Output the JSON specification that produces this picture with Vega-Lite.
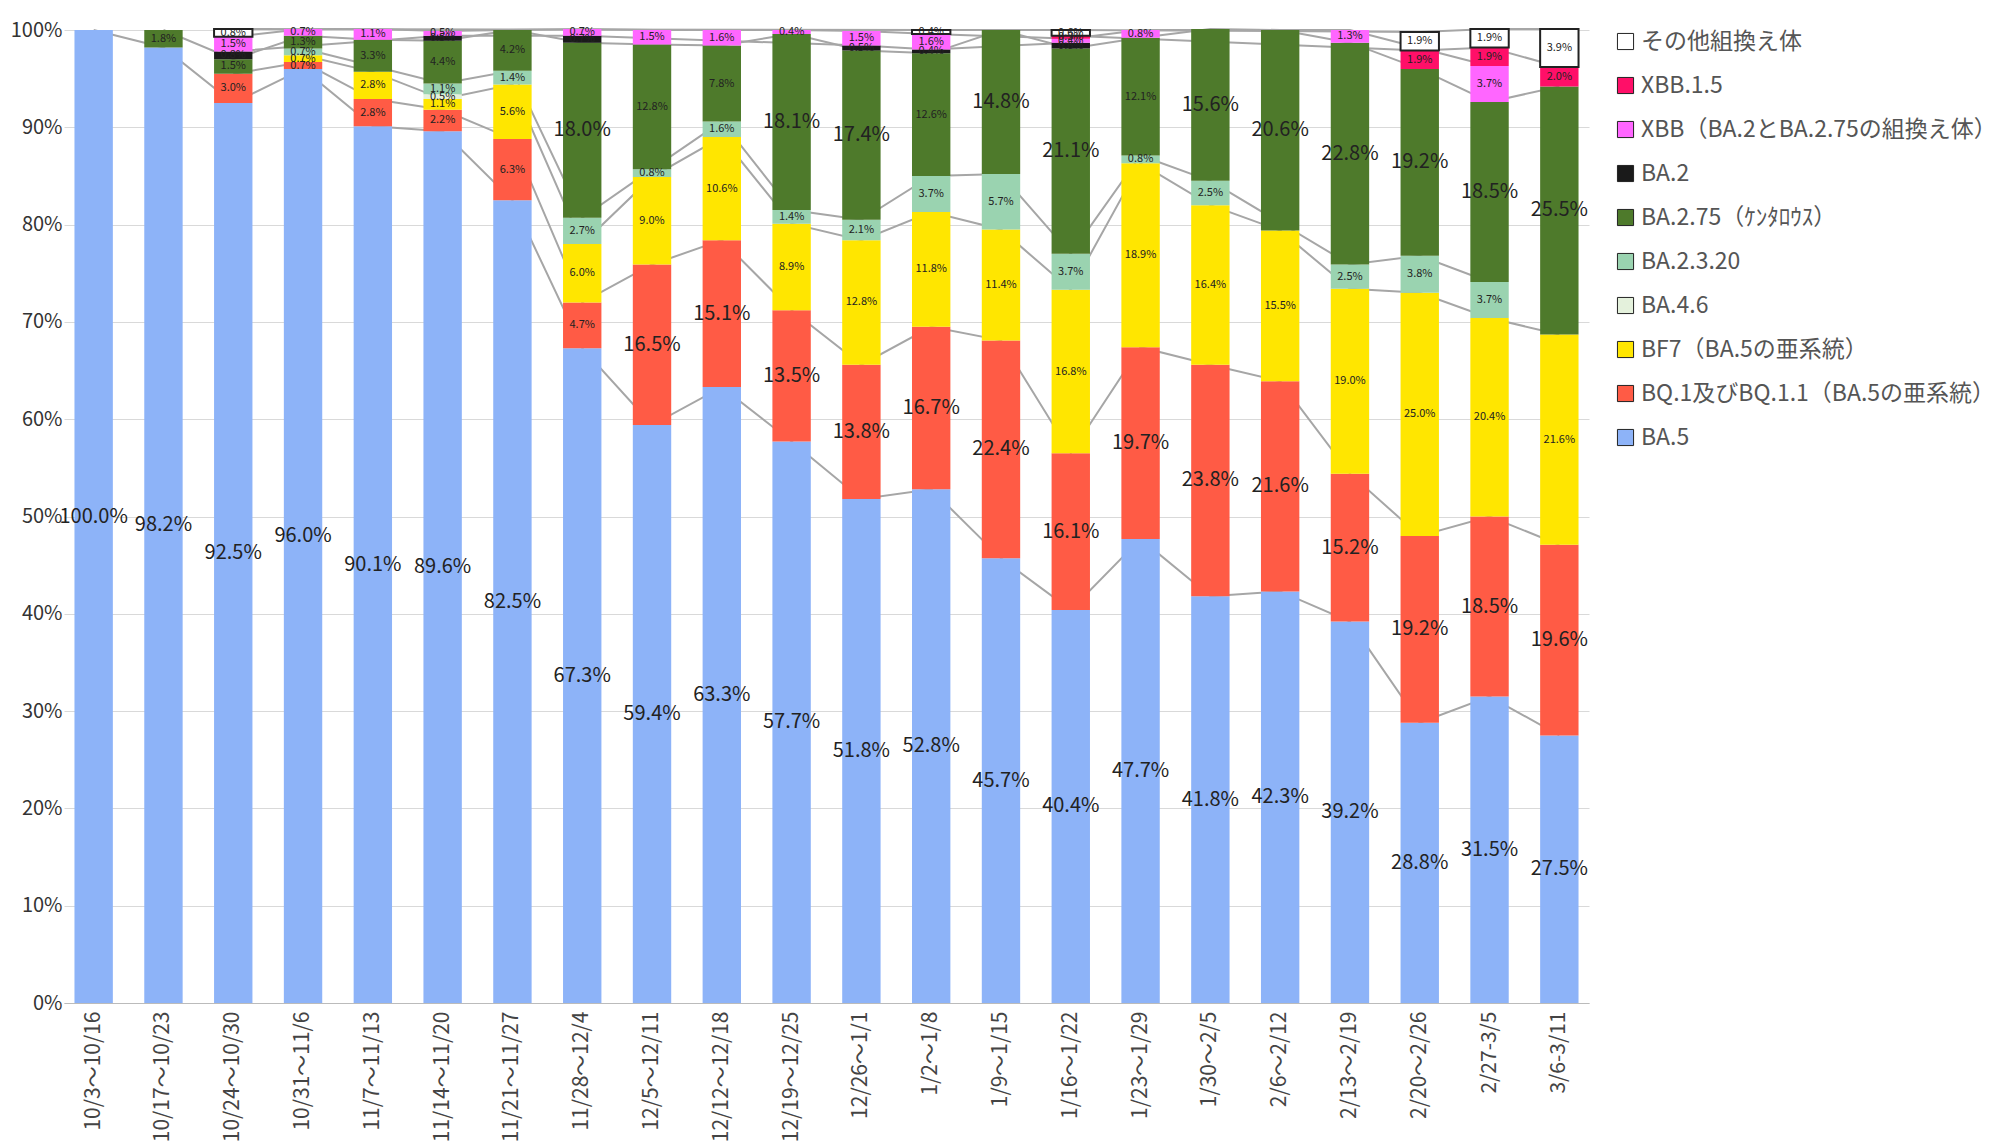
{
"$schema":"https://vega.github.io/schema/vega-lite/v6.json",
"width":2002,"height":1147,"autosize":{"type":"fit","contains":"padding"},
"padding":{"left":10,"top":20,"right":5,"bottom":5},
"background":"white",
"config":{"font":"Noto Sans CJK JP","view":{"stroke":null}},
"data":{"values":[
{"w":"10/3～10/16","v":"BA.5","k":1,"p":100.0},
{"w":"10/17～10/23","v":"BA.5","k":1,"p":98.2},{"w":"10/17～10/23","v":"BA.2.75","k":6,"p":1.8},
{"w":"10/24～10/30","v":"BA.5","k":1,"p":92.5},{"w":"10/24～10/30","v":"BQ.1","k":2,"p":3.0},{"w":"10/24～10/30","v":"BA.2.75","k":6,"p":1.5},{"w":"10/24～10/30","v":"BA.2","k":7,"p":0.8},{"w":"10/24～10/30","v":"XBB","k":8,"p":1.5},{"w":"10/24～10/30","v":"Other","k":10,"p":0.8},
{"w":"10/31～11/6","v":"BA.5","k":1,"p":96.0},{"w":"10/31～11/6","v":"BQ.1","k":2,"p":0.7},{"w":"10/31～11/6","v":"BF7","k":3,"p":0.7},{"w":"10/31～11/6","v":"BA.2.3.20","k":5,"p":0.7},{"w":"10/31～11/6","v":"BA.2.75","k":6,"p":1.3},{"w":"10/31～11/6","v":"XBB","k":8,"p":0.7},
{"w":"11/7～11/13","v":"BA.5","k":1,"p":90.1},{"w":"11/7～11/13","v":"BQ.1","k":2,"p":2.8},{"w":"11/7～11/13","v":"BF7","k":3,"p":2.8},{"w":"11/7～11/13","v":"BA.2.75","k":6,"p":3.3},{"w":"11/7～11/13","v":"XBB","k":8,"p":1.1},
{"w":"11/14～11/20","v":"BA.5","k":1,"p":89.6},{"w":"11/14～11/20","v":"BQ.1","k":2,"p":2.2},{"w":"11/14～11/20","v":"BF7","k":3,"p":1.1},{"w":"11/14～11/20","v":"BA.4.6","k":4,"p":0.5},{"w":"11/14～11/20","v":"BA.2.3.20","k":5,"p":1.1},{"w":"11/14～11/20","v":"BA.2.75","k":6,"p":4.4},{"w":"11/14～11/20","v":"BA.2","k":7,"p":0.5},{"w":"11/14～11/20","v":"XBB","k":8,"p":0.5},
{"w":"11/21～11/27","v":"BA.5","k":1,"p":82.5},{"w":"11/21～11/27","v":"BQ.1","k":2,"p":6.3},{"w":"11/21～11/27","v":"BF7","k":3,"p":5.6},{"w":"11/21～11/27","v":"BA.2.3.20","k":5,"p":1.4},{"w":"11/21～11/27","v":"BA.2.75","k":6,"p":4.2},
{"w":"11/28～12/4","v":"BA.5","k":1,"p":67.3},{"w":"11/28～12/4","v":"BQ.1","k":2,"p":4.7},{"w":"11/28～12/4","v":"BF7","k":3,"p":6.0},{"w":"11/28～12/4","v":"BA.2.3.20","k":5,"p":2.7},{"w":"11/28～12/4","v":"BA.2.75","k":6,"p":18.0},{"w":"11/28～12/4","v":"BA.2","k":7,"p":0.7},{"w":"11/28～12/4","v":"XBB","k":8,"p":0.7},
{"w":"12/5～12/11","v":"BA.5","k":1,"p":59.4},{"w":"12/5～12/11","v":"BQ.1","k":2,"p":16.5},{"w":"12/5～12/11","v":"BF7","k":3,"p":9.0},{"w":"12/5～12/11","v":"BA.2.3.20","k":5,"p":0.8},{"w":"12/5～12/11","v":"BA.2.75","k":6,"p":12.8},{"w":"12/5～12/11","v":"XBB","k":8,"p":1.5},
{"w":"12/12～12/18","v":"BA.5","k":1,"p":63.3},{"w":"12/12～12/18","v":"BQ.1","k":2,"p":15.1},{"w":"12/12～12/18","v":"BF7","k":3,"p":10.6},{"w":"12/12～12/18","v":"BA.2.3.20","k":5,"p":1.6},{"w":"12/12～12/18","v":"BA.2.75","k":6,"p":7.8},{"w":"12/12～12/18","v":"XBB","k":8,"p":1.6},
{"w":"12/19～12/25","v":"BA.5","k":1,"p":57.7},{"w":"12/19～12/25","v":"BQ.1","k":2,"p":13.5},{"w":"12/19～12/25","v":"BF7","k":3,"p":8.9},{"w":"12/19～12/25","v":"BA.2.3.20","k":5,"p":1.4},{"w":"12/19～12/25","v":"BA.2.75","k":6,"p":18.1},{"w":"12/19～12/25","v":"XBB","k":8,"p":0.4},
{"w":"12/26～1/1","v":"BA.5","k":1,"p":51.8},{"w":"12/26～1/1","v":"BQ.1","k":2,"p":13.8},{"w":"12/26～1/1","v":"BF7","k":3,"p":12.8},{"w":"12/26～1/1","v":"BA.2.3.20","k":5,"p":2.1},{"w":"12/26～1/1","v":"BA.2.75","k":6,"p":17.4},{"w":"12/26～1/1","v":"BA.2","k":7,"p":0.5},{"w":"12/26～1/1","v":"XBB","k":8,"p":1.5},
{"w":"1/2～1/8","v":"BA.5","k":1,"p":52.8},{"w":"1/2～1/8","v":"BQ.1","k":2,"p":16.7},{"w":"1/2～1/8","v":"BF7","k":3,"p":11.8},{"w":"1/2～1/8","v":"BA.2.3.20","k":5,"p":3.7},{"w":"1/2～1/8","v":"BA.2.75","k":6,"p":12.6},{"w":"1/2～1/8","v":"BA.2","k":7,"p":0.4},{"w":"1/2～1/8","v":"XBB","k":8,"p":1.6},{"w":"1/2～1/8","v":"Other","k":10,"p":0.4},
{"w":"1/9～1/15","v":"BA.5","k":1,"p":45.7},{"w":"1/9～1/15","v":"BQ.1","k":2,"p":22.4},{"w":"1/9～1/15","v":"BF7","k":3,"p":11.4},{"w":"1/9～1/15","v":"BA.2.3.20","k":5,"p":5.7},{"w":"1/9～1/15","v":"BA.2.75","k":6,"p":14.8},
{"w":"1/16～1/22","v":"BA.5","k":1,"p":40.4},{"w":"1/16～1/22","v":"BQ.1","k":2,"p":16.1},{"w":"1/16～1/22","v":"BF7","k":3,"p":16.8},{"w":"1/16～1/22","v":"BA.2.3.20","k":5,"p":3.7},{"w":"1/16～1/22","v":"BA.2.75","k":6,"p":21.1},{"w":"1/16～1/22","v":"BA.2","k":7,"p":0.6},{"w":"1/16～1/22","v":"XBB","k":8,"p":0.4},{"w":"1/16～1/22","v":"XBB.1.5","k":9,"p":0.3},{"w":"1/16～1/22","v":"Other","k":10,"p":0.6},
{"w":"1/23～1/29","v":"BA.5","k":1,"p":47.7},{"w":"1/23～1/29","v":"BQ.1","k":2,"p":19.7},{"w":"1/23～1/29","v":"BF7","k":3,"p":18.9},{"w":"1/23～1/29","v":"BA.2.3.20","k":5,"p":0.8},{"w":"1/23～1/29","v":"BA.2.75","k":6,"p":12.1},{"w":"1/23～1/29","v":"XBB","k":8,"p":0.8},
{"w":"1/30～2/5","v":"BA.5","k":1,"p":41.8},{"w":"1/30～2/5","v":"BQ.1","k":2,"p":23.8},{"w":"1/30～2/5","v":"BF7","k":3,"p":16.4},{"w":"1/30～2/5","v":"BA.2.3.20","k":5,"p":2.5},{"w":"1/30～2/5","v":"BA.2.75","k":6,"p":15.6},
{"w":"2/6～2/12","v":"BA.5","k":1,"p":42.3},{"w":"2/6～2/12","v":"BQ.1","k":2,"p":21.6},{"w":"2/6～2/12","v":"BF7","k":3,"p":15.5},{"w":"2/6～2/12","v":"BA.2.75","k":6,"p":20.6},
{"w":"2/13～2/19","v":"BA.5","k":1,"p":39.2},{"w":"2/13～2/19","v":"BQ.1","k":2,"p":15.2},{"w":"2/13～2/19","v":"BF7","k":3,"p":19.0},{"w":"2/13～2/19","v":"BA.2.3.20","k":5,"p":2.5},{"w":"2/13～2/19","v":"BA.2.75","k":6,"p":22.8},{"w":"2/13～2/19","v":"XBB","k":8,"p":1.3},
{"w":"2/20～2/26","v":"BA.5","k":1,"p":28.8},{"w":"2/20～2/26","v":"BQ.1","k":2,"p":19.2},{"w":"2/20～2/26","v":"BF7","k":3,"p":25.0},{"w":"2/20～2/26","v":"BA.2.3.20","k":5,"p":3.8},{"w":"2/20～2/26","v":"BA.2.75","k":6,"p":19.2},{"w":"2/20～2/26","v":"XBB.1.5","k":9,"p":1.9},{"w":"2/20～2/26","v":"Other","k":10,"p":1.9},
{"w":"2/27-3/5","v":"BA.5","k":1,"p":31.5},{"w":"2/27-3/5","v":"BQ.1","k":2,"p":18.5},{"w":"2/27-3/5","v":"BF7","k":3,"p":20.4},{"w":"2/27-3/5","v":"BA.2.3.20","k":5,"p":3.7},{"w":"2/27-3/5","v":"BA.2.75","k":6,"p":18.5},{"w":"2/27-3/5","v":"XBB","k":8,"p":3.7},{"w":"2/27-3/5","v":"XBB.1.5","k":9,"p":1.9},{"w":"2/27-3/5","v":"Other","k":10,"p":1.9},
{"w":"3/6-3/11","v":"BA.5","k":1,"p":27.5},{"w":"3/6-3/11","v":"BQ.1","k":2,"p":19.6},{"w":"3/6-3/11","v":"BF7","k":3,"p":21.6},{"w":"3/6-3/11","v":"BA.2.75","k":6,"p":25.5},{"w":"3/6-3/11","v":"XBB.1.5","k":9,"p":2.0},{"w":"3/6-3/11","v":"Other","k":10,"p":3.9}
]},
"transform":[
{"stack":"p","groupby":["w"],"sort":[{"field":"k"}],"as":["y0","y1"]},
{"calculate":"(datum.y0+datum.y1)/2","as":"yc"},
{"calculate":"format(datum.p,'.1f')+'%'","as":"lab"}
],
"encoding":{
"x":{"field":"w","type":"nominal","sort":null,"title":null,"scale":{"paddingInner":0.45,"paddingOuter":0.15},
"axis":{"labelAngle":-90,"labelFontSize":21,"labelColor":"#444","domainColor":"#bbb","ticks":false,"labelPadding":8}}
},
"layer":[
{"mark":{"type":"line","color":"#a6a6a6","strokeWidth":2},
"encoding":{"y":{"field":"y1","type":"quantitative","scale":{"domain":[0,100]},"title":null,
"axis":{"values":[0,10,20,30,40,50,60,70,80,90,100],"labelExpr":"datum.value+'%'","labelFontSize":20,"labelColor":"#333","gridColor":"#d9d9d9","domain":false,"ticks":false}},
"detail":{"field":"v"}}},
{"mark":{"type":"bar","strokeWidth":2},
"encoding":{"y":{"field":"y0","type":"quantitative"},"y2":{"field":"y1"},
"color":{"field":"v","type":"nominal","title":null,
"scale":{"domain":["Other","XBB.1.5","XBB","BA.2","BA.2.75","BA.2.3.20","BA.4.6","BF7","BQ.1","BA.5"],
"range":["#ffffff","#ff0f68","#ff66ff","#1a1a1a","#4e7a2b","#9ad3b0","#e4f1dc","#ffe600","#ff5b45","#8db3f8"]},
"legend":{"labelExpr":"{'Other':'その他組換え体','XBB.1.5':'XBB.1.5','XBB':'XBB（BA.2とBA.2.75の組換え体）','BA.2':'BA.2','BA.2.75':'BA.2.75（ｹﾝﾀﾛｳｽ）','BA.2.3.20':'BA.2.3.20','BA.4.6':'BA.4.6','BF7':'BF7（BA.5の亜系統）','BQ.1':'BQ.1及びBQ.1.1（BA.5の亜系統）','BA.5':'BA.5'}[datum.value]",
"labelFontSize":23,"labelLimit":700,"labelColor":"#555","symbolType":"square","symbolSize":260,"symbolStrokeColor":"#222","symbolStrokeWidth":1,"rowPadding":20,"offset":25,"orient":"right","padding":0}},
"stroke":{"condition":{"test":"datum.v=='Other'","value":"#222"},"value":null}}},
{"mark":{"type":"text","color":"#222"},
"encoding":{"y":{"field":"yc","type":"quantitative"},
"text":{"field":"lab","type":"nominal"},
"size":{"condition":{"test":"datum.p>=13 && datum.k!=3","value":20},"value":11}}}
]
}
